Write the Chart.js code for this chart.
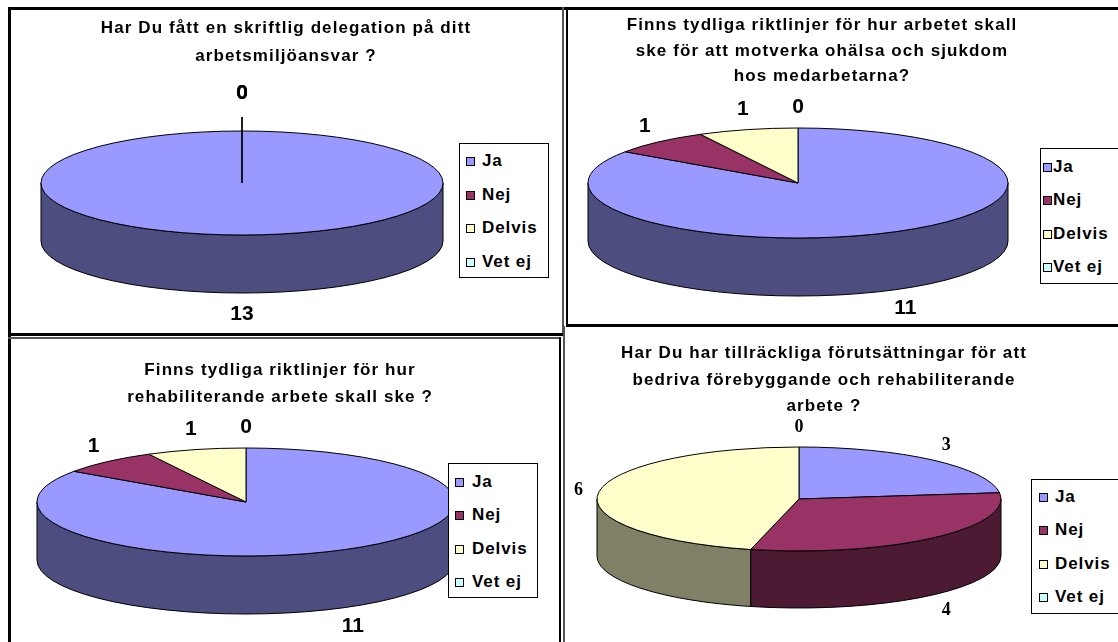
<!DOCTYPE html>
<html><head><meta charset="utf-8">
<script src="https://cdn.jsdelivr.net/npm/chart.js@4/dist/chart.umd.min.js"></script>
<style>
html,body{margin:0;padding:0;background:#fff;}
body{width:1118px;height:642px;overflow:hidden;position:relative;font-family:"Liberation Sans",Arial,sans-serif;}
.ln{position:absolute;background:#000;}
.ln.g{background:#555;}
canvas.c{position:absolute;left:0;top:0;}
.title{position:absolute;width:700px;text-align:center;font-weight:bold;font-size:17px;letter-spacing:1.1px;color:#000;white-space:nowrap;}
.legend{position:absolute;border:1px solid #000;box-sizing:border-box;background:#fff;}
.li{position:absolute;height:22px;display:flex;align-items:center;font-weight:bold;font-size:17px;letter-spacing:0.9px;white-space:nowrap;}
.sq{position:absolute;width:7px;height:7px;border:1px solid #000;}
</style>
</head><body>
<!-- panel frame lines -->
<div class="ln" style="left:8px;top:7px;width:1110px;height:3px"></div>
<div class="ln" style="left:8px;top:7px;width:3px;height:635px"></div>
<div class="ln g" style="left:562px;top:7px;width:2px;height:329px"></div>
<div class="ln" style="left:566px;top:7px;width:2px;height:320px"></div>
<div class="ln" style="left:566px;top:324px;width:552px;height:3px"></div>
<div class="ln" style="left:8px;top:333px;width:556px;height:3px"></div>
<div class="ln g" style="left:8px;top:337px;width:553px;height:2px"></div>
<div class="ln" style="left:559px;top:337px;width:2px;height:305px"></div>
<div class="ln g" style="left:563px;top:326px;width:2px;height:316px"></div>

<canvas class="c" id="cTL" width="1118" height="642"></canvas>
<canvas class="c" id="cTR" width="1118" height="642"></canvas>
<canvas class="c" id="cBL" width="1118" height="642"></canvas>
<canvas class="c" id="cBR" width="1118" height="642"></canvas>

<script>
// ---------- data ----------
const categories = ['Ja', 'Nej', 'Delvis', 'Vet ej'];
const topColors  = ['#9999FF', '#993366', '#FFFFCC', '#CCFFFF'];
const sideColors = ['#4D4D80', '#4D1A33', '#808066', '#668080'];

const titleTL  = ['Har Du fått en skriftlig delegation på ditt', 'arbetsmiljöansvar ?'];
const valuesTL = [13, 0, 0, 0];

const titleTR  = ['Finns tydliga riktlinjer för hur arbetet skall', 'ske för att motverka ohälsa och sjukdom', 'hos medarbetarna?'];
const valuesTR = [11, 1, 1, 0];

const titleBL  = ['Finns tydliga riktlinjer för hur', 'rehabiliterande arbete skall ske ?'];
const valuesBL = [11, 1, 1, 0];

const titleBR  = ['Har Du har tillräckliga förutsättningar för att', 'bedriva förebyggande och rehabiliterande', 'arbete ?'];
const valuesBR = [3, 4, 6, 0];

// ---------- 3D pie plugin ----------
const PI = Math.PI;
const pie3d = {
  id: 'pie3d',
  geom(chart, opts) {
    const ca = chart.chartArea;
    const depth = opts.depth;
    const rx = (ca.right - ca.left) / 2;
    const ry = (ca.bottom - ca.top - depth) / 2;
    return {cx: (ca.left + ca.right) / 2, cy: ca.top + ry, rx, ry, depth};
  },
  beforeDatasetsDraw(chart, args, opts) {
    const ctx = chart.ctx;
    const g = this.geom(chart, opts);
    const meta = chart.getDatasetMeta(0);
    const sides = opts.sideColors;
    const tops = chart.data.datasets[0].backgroundColor;
    ctx.save();
    ctx.lineWidth = 1;
    ctx.strokeStyle = '#000';
    ctx.lineJoin = 'round';
    // side walls (front half only)
    meta.data.forEach((arc, i) => {
      const s = arc.startAngle, e = arc.endAngle;
      if (e - s <= 1e-9) return;
      for (let k = -1; k <= 1; k++) {
        const lo = Math.max(s, k * 2 * PI), hi = Math.min(e, k * 2 * PI + PI);
        if (hi > lo) {
          ctx.beginPath();
          ctx.ellipse(g.cx, g.cy, g.rx, g.ry, 0, lo, hi, false);
          ctx.ellipse(g.cx, g.cy + g.depth, g.rx, g.ry, 0, hi, lo, true);
          ctx.closePath();
          ctx.fillStyle = sides[i];
          ctx.fill();
          ctx.stroke();
        }
      }
    });
    // top faces
    meta.data.forEach((arc, i) => {
      const s = arc.startAngle, e = arc.endAngle;
      if (e - s <= 1e-9) return;
      ctx.beginPath();
      if (e - s >= 2 * PI - 1e-6) {
        ctx.ellipse(g.cx, g.cy, g.rx, g.ry, 0, 0, 2 * PI);
      } else {
        ctx.moveTo(g.cx, g.cy);
        ctx.ellipse(g.cx, g.cy, g.rx, g.ry, 0, s, e, false);
        ctx.closePath();
      }
      ctx.fillStyle = tops[i];
      ctx.fill();
      ctx.stroke();
    });
    ctx.restore();
    return false;
  },
  afterDraw(chart, args, opts) {
    const ctx = chart.ctx;
    const g = this.geom(chart, opts);
    const meta = chart.getDatasetMeta(0);
    const vals = chart.data.datasets[0].data;
    ctx.save();
    ctx.font = opts.labelFont;
    ctx.fillStyle = '#000';
    ctx.textAlign = 'center';
    ctx.textBaseline = 'middle';
    meta.data.forEach((arc, i) => {
      const v = vals[i];
      if (v === null || v === undefined) return;
      const m = (arc.startAngle + arc.endAngle) / 2;
      const c = Math.cos(m), sn = Math.sin(m);
      const px = g.cx + g.rx * c;
      const py = g.cy + g.ry * sn + (sn > 0 ? g.depth : 0);
      const off = opts.labelOffset + (v === 0 ? (opts.zeroLift || 0) : 0);
      const lx = px + off * c, ly = py + off * sn;
      if (v === 0 && opts.leader) {
        ctx.beginPath();
        ctx.strokeStyle = '#000';
        ctx.lineWidth = 1;
        ctx.moveTo(g.cx, g.cy);
        ctx.lineTo(lx, ly + opts.leaderGap);
        ctx.stroke();
      }
      ctx.fillText(String(v), lx, ly);
    });
    ctx.restore();
  }
};

function makePie(id, values, box, opts) {
  const W = 1118, H = 642;
  return new Chart(document.getElementById(id), {
    type: 'pie',
    data: {labels: categories, datasets: [{data: values, backgroundColor: topColors, borderWidth: 0}]},
    options: {
      responsive: false, animation: false, events: [],
      rotation: 0,
      layout: {padding: {left: box[0], right: W - box[1], top: box[2], bottom: H - box[3]}},
      plugins: {
        legend: {display: false}, tooltip: {enabled: false},
        pie3d: Object.assign({sideColors: sideColors}, opts)
      }
    },
    plugins: [pie3d]
  });
}

const sansLbl = 'bold 21px "Liberation Sans", Arial, sans-serif';
makePie('cTL', valuesTL, [41, 443, 131, 293], {depth: 58, labelFont: sansLbl, labelOffset: 21, zeroLift: 17, leader: true, leaderGap: 24});
makePie('cTR', valuesTR, [588, 1008, 128, 296], {depth: 58, labelFont: sansLbl, labelOffset: 21});
makePie('cBL', valuesBL, [37, 455, 448, 614], {depth: 58, labelFont: sansLbl, labelOffset: 21});
makePie('cBR', valuesBR, [597, 1001, 447, 608], {depth: 57, labelFont: 'bold 18px "Liberation Serif", "Times New Roman", serif', labelOffset: 20});

// ---------- titles ----------
function addTitle(lines, cx, top, lh) {
  const d = document.createElement('div');
  d.className = 'title';
  d.style.left = (cx - 350) + 'px';
  d.style.top = top + 'px';
  d.style.lineHeight = lh + 'px';
  d.innerHTML = lines.map(t => t.replace(/&/g, '&amp;').replace(/</g, '&lt;')).join('<br>');
  document.body.appendChild(d);
}
addTitle(titleTL, 286, 14, 28);
addTitle(titleTR, 822, 12, 25.5);
addTitle(titleBL, 280, 356, 27);
addTitle(titleBR, 824, 340, 26.5);

// ---------- legends ----------
function addLegend(box, sqOff, txtOff, firstY, step) {
  const d = document.createElement('div');
  d.className = 'legend';
  d.style.left = box[0] + 'px'; d.style.top = box[1] + 'px';
  d.style.width = box[2] + 'px'; d.style.height = box[3] + 'px';
  categories.forEach((c, i) => {
    const y = firstY - box[1] + i * step;
    const sq = document.createElement('div');
    sq.className = 'sq';
    sq.style.background = topColors[i];
    sq.style.left = (sqOff - 1) + 'px';
    sq.style.top = (y - 5) + 'px';
    d.appendChild(sq);
    const t = document.createElement('div');
    t.className = 'li';
    t.style.left = (txtOff - 1) + 'px';
    t.style.top = (y - 12) + 'px';
    t.textContent = c;
    d.appendChild(t);
  });
  document.body.appendChild(d);
}
addLegend([459, 143, 90, 135], 7, 23, 161, 33.7);
addLegend([1040, 148, 100, 136], 3, 13, 167, 33.4);
addLegend([448, 463, 90, 135], 7, 24, 482, 33.4);
addLegend([1031, 479, 100, 135], 8, 24, 497, 33.4);
</script>
</body></html>
